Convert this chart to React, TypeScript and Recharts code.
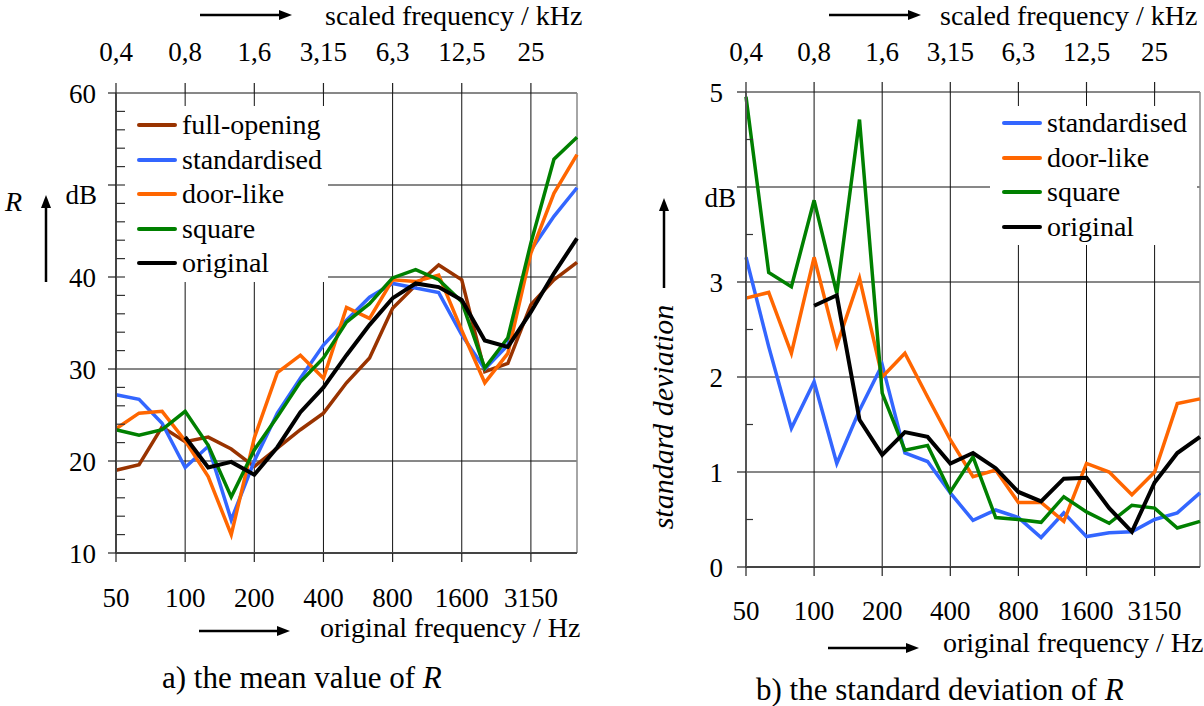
import React from 'react';
import { LineChart, Line, XAxis, YAxis, ReferenceLine, Legend } from 'recharts';

const FONT = '"Liberation Serif", "DejaVu Serif", serif';

// third-octave bands (original frequency, Hz)
const bands = ['50', '63', '80', '100', '125', '160', '200', '250', '315', '400', '500',
  '630', '800', '1000', '1250', '1600', '2000', '2500', '3150', '4000', '5000'];
const octaveIdx = [0, 3, 6, 9, 12, 15, 18];
const origLabels = ['50', '100', '200', '400', '800', '1600', '3150'];
const scaledLabels = ['0,4', '0,8', '1,6', '3,15', '6,3', '12,5', '25'];

// a) mean value of R, dB
const meanFullOpening = [19.0, 19.6, 23.7, 22.1, 22.6, 21.3, 19.4, 21.4, 23.4, 25.2, 28.5,
  31.2, 36.6, 39.1, 41.3, 39.7, 29.7, 30.6, 37.0, 39.7, 41.6];
const meanStandardised = [27.2, 26.7, 24.1, 19.3, 21.6, 13.6, 20.0, 25.2, 29.0, 32.6, 35.3,
  37.8, 39.3, 38.8, 38.3, 33.7, 30.0, 32.6, 42.9, 46.6, 49.7];
const meanDoorLike = [23.5, 25.2, 25.4, 22.2, 18.3, 12.0, 22.5, 29.6, 31.5, 29.0, 36.7,
  35.5, 39.7, 39.5, 40.2, 34.2, 28.5, 31.7, 42.6, 49.1, 53.3];
const meanSquare = [23.4, 22.8, 23.4, 25.4, 21.7, 16.1, 21.2, 24.8, 28.6, 31.2, 35.1,
  37.1, 39.9, 40.8, 39.7, 37.3, 30.1, 33.4, 43.7, 52.8, 55.2];
const meanOriginal = [null, null, null, 22.6, 19.3, 19.9, 18.5, 21.5, 25.3, 28.0, 31.5,
  34.8, 37.7, 39.3, 38.9, 37.5, 33.1, 32.4, 36.2, 40.4, 44.2];

// b) standard deviation of R, dB
const sdStandardised = [3.26, 2.32, 1.46, 1.95, 1.09, 1.65, 2.13, 1.20, 1.11, 0.78, 0.49,
  0.60, 0.52, 0.31, 0.57, 0.32, 0.36, 0.37, 0.50, 0.57, 0.78];
const sdDoorLike = [2.83, 2.89, 2.25, 3.26, 2.33, 3.04, 2.00, 2.25, 1.79, 1.34, 0.95,
  1.02, 0.68, 0.68, 0.48, 1.09, 1.00, 0.76, 1.00, 1.72, 1.77];
const sdSquare = [4.95, 3.10, 2.95, 3.86, 2.88, 4.71, 1.83, 1.23, 1.28, 0.79, 1.16,
  0.52, 0.50, 0.47, 0.74, 0.58, 0.46, 0.65, 0.62, 0.41, 0.48];
const sdOriginal = [null, null, null, 2.75, 2.86, 1.55, 1.18, 1.42, 1.37, 1.09, 1.20,
  1.04, 0.79, 0.69, 0.93, 0.94, 0.62, 0.37, 0.89, 1.20, 1.37];

const meanTicks = [10, 12, 14, 16, 18, 20, 22, 24, 26, 28, 30, 32, 34, 36, 38, 40, 42, 44, 46, 48, 50, 52, 54, 56, 58, 60];
const meanMajor = [10, 20, 30, 40, 50, 60];
const sdTicks = [0, 0.5, 1, 1.5, 2, 2.5, 3, 3.5, 4, 4.5, 5];
const sdMajor = [0, 1, 2, 3, 4, 5];

const meanData = bands.map((f, i) => ({
  i, f,
  full: meanFullOpening[i], std: meanStandardised[i], door: meanDoorLike[i],
  square: meanSquare[i], orig: meanOriginal[i],
}));
const sdData = bands.map((f, i) => ({
  i, f,
  std: sdStandardised[i], door: sdDoorLike[i], square: sdSquare[i], orig: sdOriginal[i],
}));

// series in legend / drawing order
const meanSeries = [
  { key: 'full', name: 'full-opening', color: '#993300', w: 3.5 },
  { key: 'std', name: 'standardised', color: '#3366ff', w: 3.5 },
  { key: 'door', name: 'door-like', color: '#ff6600', w: 3.5 },
  { key: 'square', name: 'square', color: '#008000', w: 3.5 },
  { key: 'orig', name: 'original', color: '#000000', w: 4 },
];
const sdSeries = meanSeries.slice(1);

const txt = { fontFamily: FONT };

// y ticks: labelled majors point outwards, minors point into the plot
const makeYTick = (o: { major: number[]; dbAt: number; out: number; inLen: number; gap: number; dbGap: number; dbDy: number }) =>
  (p: any) => {
    const { x, y, payload } = p;
    const v = payload.value;
    if (!o.major.includes(v)) {
      return <line x1={x} x2={x + o.inLen} y1={y} y2={y} stroke="#333" strokeWidth={1.2} />;
    }
    return (
      <g>
        <line x1={x - o.out} x2={x} y1={y} y2={y} stroke="#222" strokeWidth={1.2} />
        {v === o.dbAt
          ? <text x={x - o.dbGap} y={y + o.dbDy} textAnchor="end" style={txt} fontSize={27} fill="#000">dB</text>
          : <text x={x - o.gap} y={y + 10} textAnchor="end" style={txt} fontSize={27} fill="#000">{v}</text>}
      </g>
    );
  };

const makeXTick = (labels: string[], side: 'top' | 'bottom', len: number, dy: number) => (p: any) => {
  const { x, y, payload } = p;
  const k = octaveIdx.indexOf(payload.value);
  const s = side === 'top' ? -1 : 1;
  return (
    <g>
      <line x1={x} x2={x} y1={y} y2={y + s * len} stroke="#222" strokeWidth={1.2} />
      <text x={x} y={y + s * dy} textAnchor="middle" style={txt} fontSize={27} fill="#000">{labels[k]}</text>
    </g>
  );
};

const legendContent = (series: typeof meanSeries, rowTop: number, rowGap: number) => () => (
  <div style={{ position: 'relative', width: '100%', height: '100%', background: '#fff' }}>
    {series.map((e, k) => (
      <div key={e.key} style={{ position: 'absolute', left: 0, top: rowTop + k * rowGap - 17, height: 34, display: 'flex', alignItems: 'center', whiteSpace: 'nowrap' }}>
        <span style={{ display: 'inline-block', marginLeft: 12, width: 40, height: 4, borderRadius: 2, background: e.color }} />
        <span style={{ marginLeft: 5, fontFamily: FONT, fontSize: 28, color: '#000', lineHeight: '34px' }}>{e.name}</span>
      </div>
    ))}
  </div>
);

const Arrow = ({ x1, y1, x2, y2 }: { x1: number; y1: number; x2: number; y2: number }) => {
  const len = Math.hypot(x2 - x1, y2 - y1);
  const ux = (x2 - x1) / len, uy = (y2 - y1) / len;
  const hx = x2 - ux * 13, hy = y2 - uy * 13;
  return (
    <g>
      <line x1={x1} y1={y1} x2={hx} y2={hy} stroke="#000" strokeWidth={2.5} />
      <polygon points={`${x2},${y2} ${hx - uy * 5},${hy + ux * 5} ${hx + uy * 5},${hy - ux * 5}`} fill="#000" />
    </g>
  );
};

const gridX = [3, 6, 9, 12, 15, 18];

export default function App() {
  return (
    <div style={{ position: 'absolute', left: 0, top: 0, width: 1204, height: 706, background: '#fff', fontFamily: FONT }}>
      {/* a) mean value */}
      <div style={{ position: 'absolute', left: 0, top: 0 }}>
        <LineChart width={600} height={623} data={meanData} margin={{ top: 0, right: 23, bottom: 0, left: 0 }}>
          <XAxis dataKey="i" type="number" domain={[0, 20]} ticks={octaveIdx} interval={0} height={70}
            axisLine={{ stroke: '#444', strokeWidth: 2 }} tickLine={false} tickSize={0} tickMargin={0}
            tick={makeXTick(origLabels, 'bottom', 9, 54)} />
          <XAxis xAxisId="top" orientation="top" type="number" domain={[0, 20]} ticks={octaveIdx} interval={0} height={93}
            axisLine={false} tickLine={false} tickSize={0} tickMargin={0}
            tick={makeXTick(scaledLabels, 'top', 10, 32)} />
          <YAxis type="number" domain={[10, 60]} ticks={meanTicks} interval={0} width={116}
            axisLine={{ stroke: '#444', strokeWidth: 2 }} tickLine={false} tickSize={0} tickMargin={0}
            tick={makeYTick({ major: meanMajor, dbAt: 50, out: 8, inLen: 9, gap: 20, dbGap: 19, dbDy: 19 })} />
          {meanMajor.map(v => <ReferenceLine key={'h' + v} y={v} stroke="#111" strokeWidth={1} />)}
          {gridX.map(v => <ReferenceLine key={'v' + v} x={v} stroke="#111" strokeWidth={1} />)}
          <ReferenceLine x={20} stroke="#888" strokeWidth={1.5} />
          <Legend layout="vertical" align="center" verticalAlign="middle"
            wrapperStyle={{ left: 125, top: 106, width: 203, height: 176 }}
            content={legendContent(meanSeries, 19, 34.6)} />
          {meanSeries.map(s => (
            <Line key={s.key} dataKey={s.key} name={s.name} stroke={s.color} strokeWidth={s.w} dot={false} isAnimationActive={false} />
          ))}
        </LineChart>
      </div>

      {/* b) standard deviation */}
      <div style={{ position: 'absolute', left: 630, top: 0 }}>
        <LineChart width={574} height={637} data={sdData} margin={{ top: 0, right: 4, bottom: 0, left: 0 }}>
          <XAxis dataKey="i" type="number" domain={[0, 20]} ticks={octaveIdx} interval={0} height={70}
            axisLine={{ stroke: '#444', strokeWidth: 2 }} tickLine={false} tickSize={0} tickMargin={0}
            tick={makeXTick(origLabels, 'bottom', 9, 53)} />
          <XAxis xAxisId="top" orientation="top" type="number" domain={[0, 20]} ticks={octaveIdx} interval={0} height={92}
            axisLine={false} tickLine={false} tickSize={0} tickMargin={0}
            tick={makeXTick(scaledLabels, 'top', 10, 31)} />
          <YAxis type="number" domain={[0, 5]} ticks={sdTicks} interval={0} width={116}
            axisLine={{ stroke: '#555', strokeWidth: 2 }} tickLine={false} tickSize={0} tickMargin={0}
            tick={makeYTick({ major: sdMajor, dbAt: 4, out: 9, inLen: 7, gap: 23, dbGap: 10, dbDy: 20 })} />
          {sdMajor.map(v => <ReferenceLine key={'h' + v} y={v} stroke="#111" strokeWidth={1} />)}
          {gridX.map(v => <ReferenceLine key={'v' + v} x={v} stroke="#111" strokeWidth={1} />)}
          <ReferenceLine x={20} stroke="#888" strokeWidth={1.5} />
          <Legend layout="vertical" align="center" verticalAlign="middle"
            wrapperStyle={{ left: 360, top: 106, width: 207, height: 139 }}
            content={legendContent(sdSeries, 17, 34.7)} />
          {sdSeries.map(s => (
            <Line key={s.key} dataKey={s.key} name={s.name} stroke={s.color} strokeWidth={s.w} dot={false} isAnimationActive={false} />
          ))}
        </LineChart>
      </div>

      {/* axis titles, arrows and captions */}
      <svg width={1204} height={706} style={{ position: 'absolute', left: 0, top: 0, pointerEvents: 'none', fontFamily: FONT }} fill="#000">
        <Arrow x1={200} y1={15} x2={292} y2={15} />
        <text x={325} y={25} fontSize={28}>scaled frequency / kHz</text>
        <Arrow x1={199} y1={631} x2={290} y2={631} />
        <text x={320} y={637} fontSize={28}>original frequency / Hz</text>
        <text x={162} y={688} fontSize={31}>a) the mean value of <tspan fontStyle="italic">R</tspan></text>
        <text x={5} y={211} fontSize={28} fontStyle="italic">R</text>
        <Arrow x1={46} y1={282} x2={46} y2={195} />

        <Arrow x1={829} y1={15} x2={921} y2={15} />
        <text x={940} y={25} fontSize={28}>scaled frequency / kHz</text>
        <Arrow x1={828} y1={648} x2={919} y2={648} />
        <text x={943} y={652} fontSize={28}>original frequency / Hz</text>
        <text x={756} y={700} fontSize={31}>b) the standard deviation of <tspan fontStyle="italic">R</tspan></text>
        <text x={673} y={417} fontSize={30} fontStyle="italic" textAnchor="middle" transform="rotate(-90 673 417)">standard deviation</text>
        <Arrow x1={664} y1={288} x2={664} y2={198} />
      </svg>
    </div>
  );
}
